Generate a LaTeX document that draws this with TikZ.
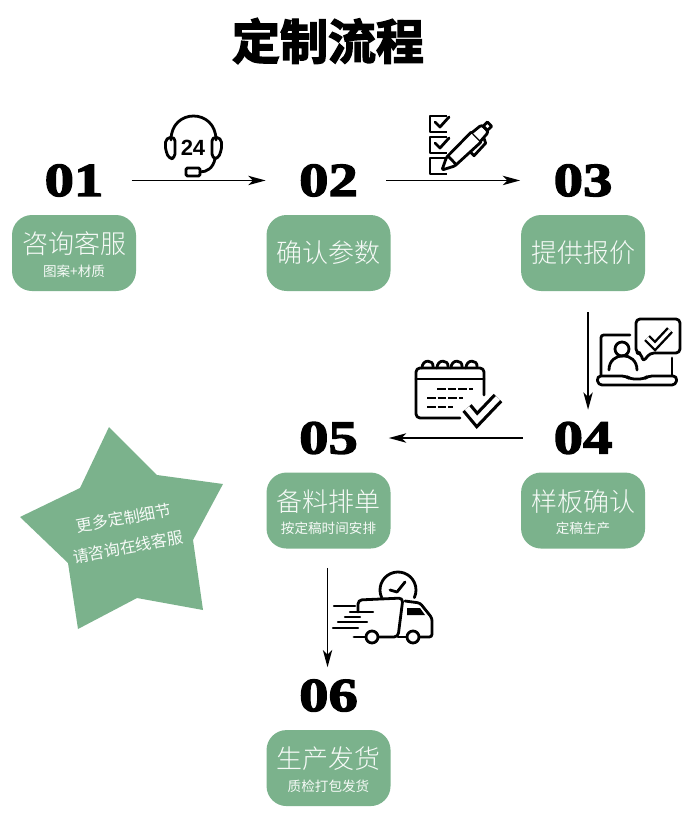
\documentclass[tikz,border=0pt]{standalone}
\usepackage{fontspec}
\usepackage{xcolor}
\usetikzlibrary{arrows.meta,positioning}
\newfontfamily\cjk{Noto Sans CJK SC Light}
\newfontfamily\starfont{Noto Sans CJK SC}
\newfontfamily\titlefont[FakeBold=3]{Noto Sans CJK SC Bold}
\newfontfamily\numfont[FakeBold=3,FakeStretch=1.24]{Liberation Serif Bold}
\definecolor{leaf}{HTML}{7BB28C}
\definecolor{chalk}{HTML}{F6FAF7}
\tikzset{
  blk/.style={fill=leaf, rounded corners=15pt, minimum width=93pt, minimum height=57pt, inner sep=0pt, align=center, text=chalk, font=\cjk},
  num/.style={minimum width=90pt, minimum height=42pt, inner sep=0pt, font=\numfont\fontsize{35.5}{35.5}\selectfont},
  arr/.style={-{Stealth[length=13pt,width=7pt,inset=3.5pt]}, line width=1.3pt},
  icon/.style={line width=2.1pt, line cap=round, line join=round},
  tick/.style={line join=miter},
  starlabel/.style={rotate=10.5, text=chalk, inner sep=0pt, font=\starfont\fontsize{12}{14}\selectfont},
}
\newcommand{\boxtext}[2]{\rule{0pt}{19pt}{\fontsize{19.5}{22}\selectfont #1}\\[5pt]{\starfont\fontsize{10.2}{11}\selectfont #2}}
\newcommand{\onetext}[1]{\raisebox{-1.5pt}{\fontsize{19.5}{22}\selectfont #1}}
\begin{document}
\begin{tikzpicture}[x=0.75pt,y=-0.75pt,node distance=97.5pt and 97.5pt]
  \useasboundingbox (0,0) rectangle (697,828);
  \node[font=\titlefont\fontsize{36}{36}\selectfont] (title) at (328,41) {定制流程};

  \node[blk] (c1) at (74,253) {\boxtext{咨询客服}{图案+材质}};
  \node[blk, right=of c1] (c2) {\onetext{确认参数}};
  \node[blk, right=of c2] (c3) {\onetext{提供报价}};
  \node[blk, below=135.75pt of c3] (c4) {\boxtext{样板确认}{定稿生产}};
  \node[blk, left=of c4] (c5) {\boxtext{备料排单}{按定稿时间安排}};
  \node[blk, below=135.75pt of c5] (c6) {\boxtext{生产发货}{质检打包发货}};

  \node[num, above=4.5pt of c1] (n1) {01};
  \node[num, above=4.5pt of c2] (n2) {02};
  \node[num, above=4.5pt of c3] (n3) {03};
  \node[num, above=4.5pt of c4] (n4) {04};
  \node[num, above=4.5pt of c5] (n5) {05};
  \node[num, above=4.5pt of c6] (n6) {06};

  \draw[arr] ([xshift=-2pt]n1.east) -- ([xshift=-2pt]n2.west);
  \draw[arr] ([xshift=-2pt]n2.east) -- ([xshift=-2pt]n3.west);
  \draw[arr] ([shift={(3.75pt,-15.75pt)}]c3.south) -- ([xshift=3.75pt]n4.north);
  \draw[arr] (n4.west) -- (n5.east);
  \draw[arr] ([shift={(-0.75pt,-14.25pt)}]c5.south) -- ([xshift=-0.75pt]n6.north);

  \fill[leaf] (109,427) -- (157,475) -- (223,484) -- (193,540) -- (203,610) -- (137,598)
    -- (78,629) -- (68,563) -- (20,517) -- (80,488) -- cycle;
  \node[starlabel] (s1) at (124,518) {更多定制细节};
  \node[starlabel] (s2) at (128,547) {请咨询在线客服};

  \draw[icon] (171,140) .. controls (171,108) and (216,108) .. (216,140);
  \draw[icon, rounded corners=3pt] (166,138) -- (175,137) -- (175,158) -- (169,159) -- (165,148) -- cycle;
  \draw[icon, rounded corners=3pt] (221,138) -- (212,137) -- (212,158) -- (218,159) -- (222,148) -- cycle;
  \node[inner sep=0pt, font=\fontspec{Liberation Sans Bold}\fontsize{16.5}{17}\selectfont] (h24) at (193,148) {24};
  \draw[icon, rounded corners=1pt] (186,168) rectangle (200,176);
  \draw[icon] (215,159) .. controls (213,168) and (207,172) .. (200,172);

  \foreach \y in {116,137,158} {
    \draw[icon, line cap=butt] (447,\y) -- (430,\y) -- (430,\y+16) -- (447,\y+16);
  }
  \foreach \y in {117,138} {
    \draw[icon] (435,\y+5) -- (440,\y+10) -- (449,\y);
  }
  \begin{scope}[shift={(442,170)},rotate=44]
    \draw[icon, fill=white, rounded corners=1pt] (0,0) -- (12,-6) -- (48,-7) -- (48,7) -- (12,6) -- cycle;
    \draw[icon, fill=white, rounded corners=2pt] (48,-6) -- (60,-5) -- (60,5) -- (48,6);
    \draw[icon] (60,-3) rectangle (66,3);
    \draw[icon] (14,-6) -- (14,6);
    \draw[icon] (33,7) -- (33,12) -- (50,11) -- (52,7);
  \end{scope}

  \draw[icon, rounded corners=2pt] (630,335) -- (601,335) -- (601,375);
  \draw[icon] (672,358) -- (672,375);
  \draw[icon, rounded corners=3pt] (597,376) -- (626,376) -- (630,379) -- (644,379) -- (648,376) -- (677,376) -- (676,385) -- (598,385) -- cycle;
  \draw[icon] (622,349) circle (7);
  \draw[icon] (609,370) .. controls (609,351) and (637,351) .. (637,370);
  \draw[icon, fill=white, rounded corners=3pt] (641,353) -- (636,353) -- (636,319) -- (680,319) -- (680,353) -- (650,353) -- (643,362) -- cycle;
  \draw[tick, line width=6pt] (647,338) -- (655,346) -- (670,330);
  \draw[tick, line width=2.4pt, white] (647,338) -- (655,346) -- (670,330);

  \draw[icon, rounded corners=3pt] (484,395) -- (484,368) -- (416,368) -- (416,418) -- (460,418);
  \draw[icon] (416,379) -- (484,379);
  \foreach \r in {428,443,457,472} {
    \draw[icon] (\r-6,368) .. controls (\r-6,359) and (\r+6,359) .. (\r+5,367);
  }
  \draw[icon, line cap=butt, dash pattern=on 6.5pt off 1.5pt] (437,389) -- (473,389) (427,398) -- (463,398) (427,407) -- (453,407);
  \draw[white, line width=11pt] (467,408) -- (477,420) -- (498,398);
  \draw[tick, line width=9pt] (467,408) -- (477,420) -- (498,398);
  \draw[tick, line width=4.2pt, white] (467,408) -- (477,420) -- (498,398);

  \draw[icon] (398,590) ++(-205:18) arc (-205:25:18);
  \draw[icon] (390,590) -- (397,592) -- (405,582);
  \draw[icon, fill=white, rounded corners=3pt] (358,612) -- (358,600) -- (403,598) -- (398,637) -- (378,637);
  \draw[icon] (366,637) -- (354,637);
  \draw[icon, rounded corners=2pt] (405,601) -- (420,603) -- (432,618) -- (432,637) -- (419,637);
  \draw[icon] (407,637) -- (398,637);
  \fill (407,608) -- (420,608) -- (425,615) -- (407,615) -- cycle;
  \draw[icon, fill=white] (372,637) circle (6);
  \draw[icon, fill=white] (413,637) circle (6);
  \draw[icon, line width=1.7pt] (334,606) -- (355,606) (350,612) -- (373,612) (345,617) -- (360,617)
    (338,622) -- (367,622) (333,628) -- (358,628);
\end{tikzpicture}
\end{document}
